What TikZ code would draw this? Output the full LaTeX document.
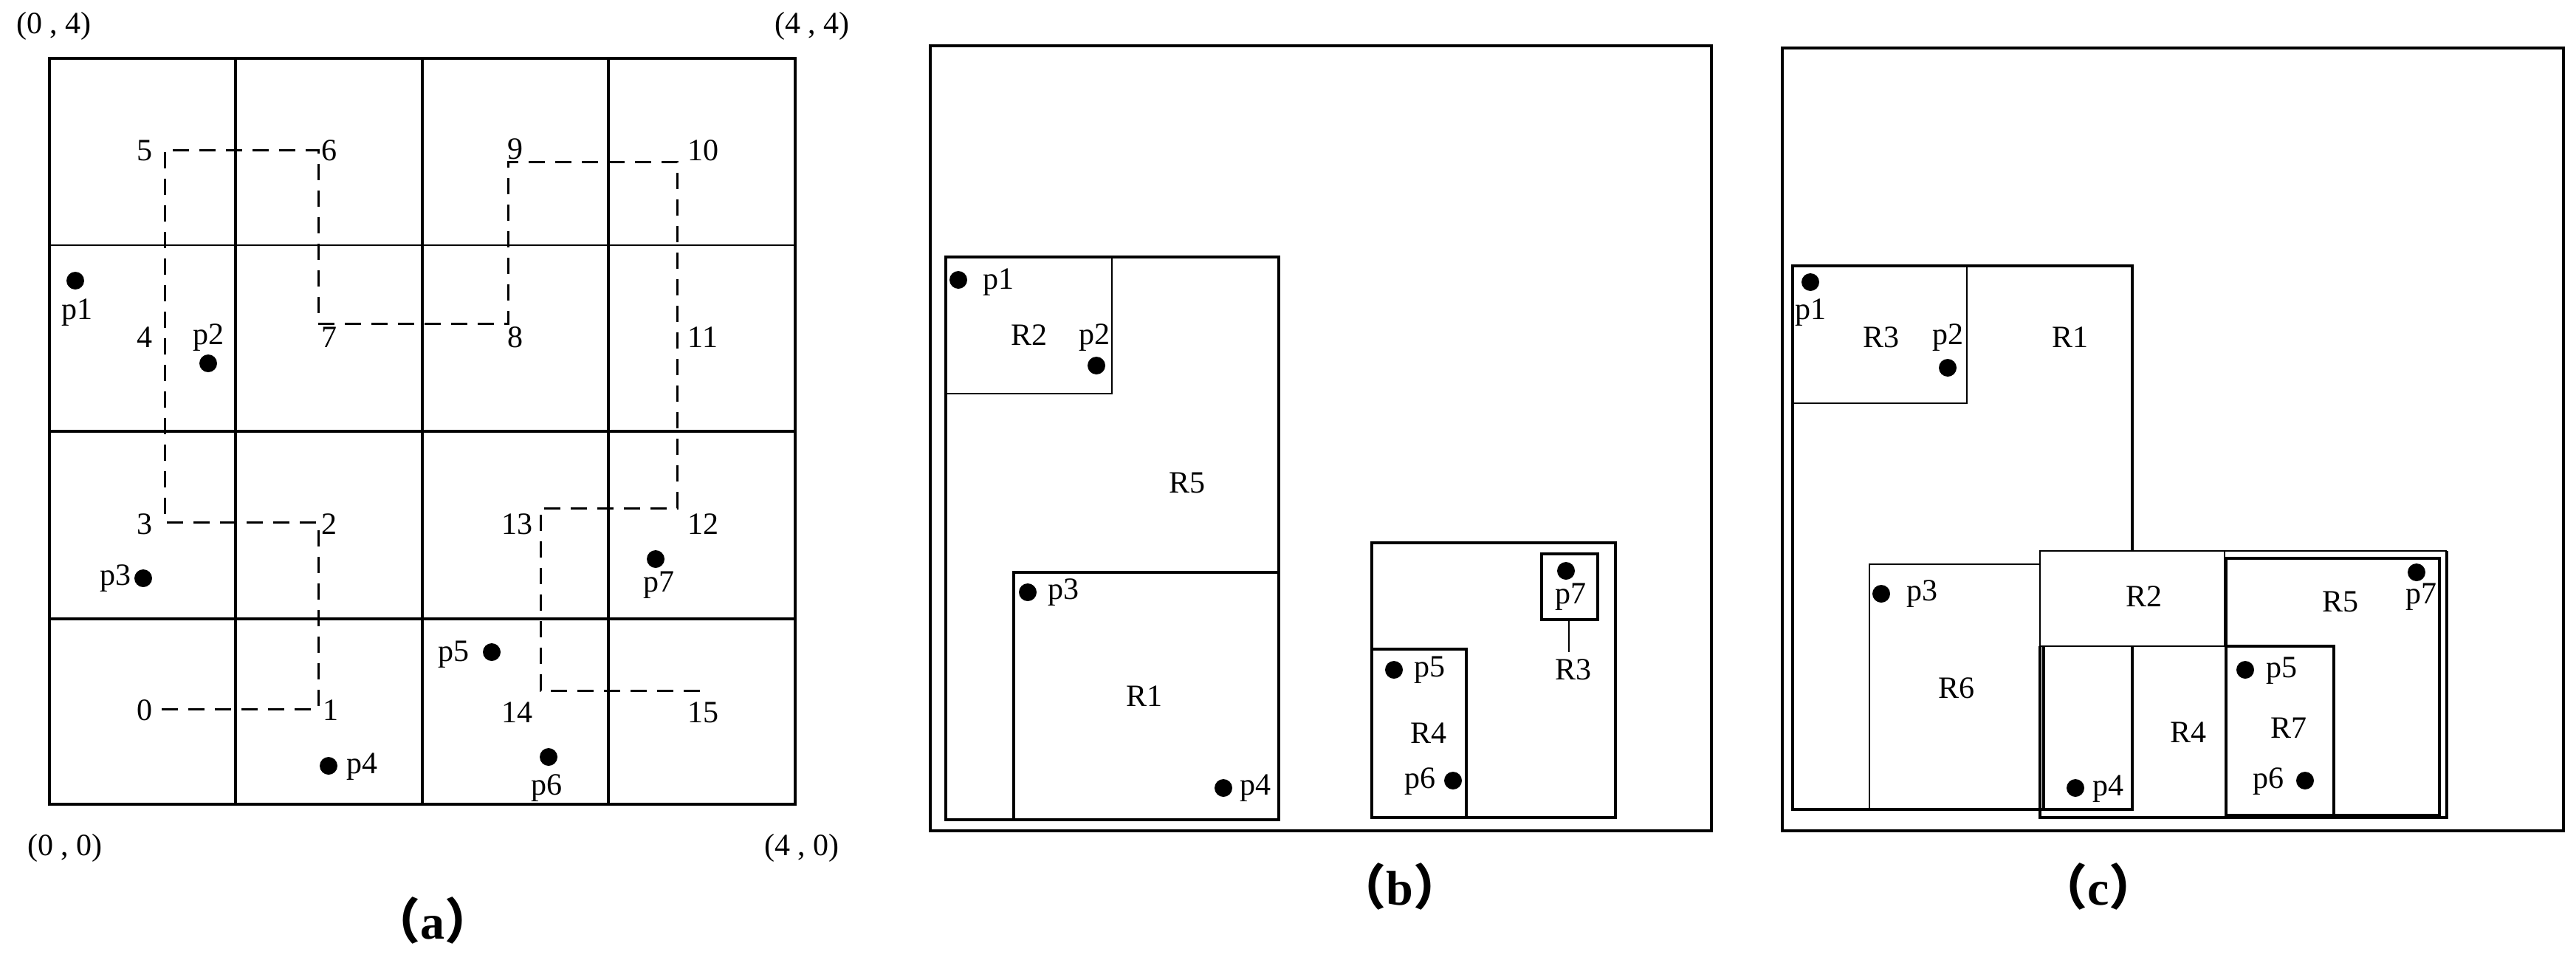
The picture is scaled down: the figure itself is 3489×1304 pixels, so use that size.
\documentclass[tikz,border=0pt]{standalone}
\usepackage{fontspec}
\setmainfont{Liberation Serif}
\newfontfamily\cjk{Noto Sans CJK SC}
\begin{document}
\begin{tikzpicture}[x=1pt,y=-1pt,
  thk/.style={line width=4pt},
  thn/.style={line width=2pt},
  dashline/.style={line width=3pt,dash pattern=on 22pt off 14pt},
  lab/.style={font=\fontsize{42}{42}\selectfont,inner sep=0pt},
  captxt/.style={font=\fontsize{66}{66}\selectfont\bfseries,inner sep=0pt},
  dot/.style={circle,fill=black,minimum size=24pt,inner sep=0pt}]
\useasboundingbox (0,0) rectangle (3489,1304);
% ---------- (a) ----------
\draw[thk] (67,79) rectangle (1077,1089);
\foreach \x in {319,572,824} \draw[thk] (\x,79) -- (\x,1089);
\draw[thn] (67,332) -- (1077,332);
\draw[thk] (67,584) -- (1077,584);
\draw[thk] (67,838) -- (1077,838);
\coordinate (c0) at (219,960); \coordinate (c1) at (431,960);
\coordinate (c2) at (431,707); \coordinate (c3) at (223,707);
\coordinate (c5) at (223,203); \coordinate (c6) at (431,203);
\coordinate (c7) at (431,438); \coordinate (c8) at (688,438);
\coordinate (c9) at (688,219); \coordinate (c10) at (917,219);
\coordinate (c12) at (917,688); \coordinate (c13) at (732,688);
\coordinate (c14) at (732,935); \coordinate (c15) at (948,935);
\draw[dashline] (c0) -- (c1) -- (c2) -- (c3) -- (c5) -- (c6) -- (c7) -- (c8) -- (c9) -- (c10) -- (c12) -- (c13) -- (c14) -- (c15);
\node[lab] (n0) at (196,962) {0};  \node[lab] (n1) at (448,962) {1};
\node[lab] (n2) at (446,710) {2};  \node[lab] (n3) at (196,710) {3};
\node[lab] (n4) at (196,457) {4};  \node[lab] (n5) at (196,204) {5};
\node[lab] (n6) at (446,204) {6};  \node[lab] (n7) at (446,457) {7};
\node[lab] (n8) at (698,457) {8};  \node[lab] (n9) at (698,202) {9};
\node[lab] (n10) at (952,204) {10}; \node[lab] (n11) at (952,457) {11};
\node[lab] (n12) at (952,710) {12}; \node[lab] (n13) at (700,710) {13};
\node[lab] (n14) at (700,965) {14}; \node[lab] (n15) at (952,965) {15};
\node[dot] (ap1) at (102,380) {}; \node[lab] (ap1l) at (104,423) {p1};
\node[dot] (ap2) at (282,492) {}; \node[lab] (ap2l) at (282,457) {p2};
\node[dot] (ap3) at (194,783) {}; \node[lab] (ap3l) at (156,783) {p3};
\node[dot] (ap4) at (445,1037) {}; \node[lab] (ap4l) at (490,1038) {p4};
\node[dot] (ap5) at (666,883) {}; \node[lab] (ap5l) at (614,886) {p5};
\node[dot] (ap6) at (743,1025) {}; \node[lab] (ap6l) at (740,1067) {p6};
\node[dot] (ap7) at (888,757) {}; \node[lab] (ap7l) at (892,792) {p7};
\node[lab] (k1) at (73,35) {(0 , 4)};
\node[lab] (k2) at (1100,35) {(4 , 4)};
\node[lab] (k3) at (88,1148) {(0 , 0)};
\node[lab] (k4) at (1086,1148) {(4 , 0)};
\node[captxt] (ca) at (586,1246) {{\cjk （}a{\cjk ）}};
% ---------- (b) ----------
\draw[thk] (1260,62) rectangle (2318,1125);
\draw[thk] (1281,348) rectangle (1732,1110);
\draw[thn] (1281,348) rectangle (1506,533);
\draw[thk] (1373,775) rectangle (1732,1110);
\draw[thk] (1858,735) rectangle (2188,1107);
\draw[thk] (1858,879) rectangle (1986,1107);
\draw[thk] (2088,750) rectangle (2164,839);
\coordinate (r3t) at (2125,839); \coordinate (r3b) at (2125,883);
\draw[thn] (r3t) -- (r3b);
\node[dot] (bp1) at (1298,379) {}; \node[lab] (bp1l) at (1352,382) {p1};
\node[lab] (bR2) at (1394,454) {R2};
\node[dot] (bp2) at (1485,495) {}; \node[lab] (bp2l) at (1482,457) {p2};
\node[lab] (bR5) at (1608,654) {R5};
\node[dot] (bp3) at (1392,802) {}; \node[lab] (bp3l) at (1440,802) {p3};
\node[lab] (bR1) at (1550,943) {R1};
\node[dot] (bp4) at (1657,1067) {}; \node[lab] (bp4l) at (1700,1067) {p4};
\node[dot] (bp7) at (2121,773) {}; \node[lab] (bp7l) at (2127,808) {p7};
\node[lab] (bR3) at (2131,907) {R3};
\node[dot] (bp5) at (1888,907) {}; \node[lab] (bp5l) at (1936,907) {p5};
\node[lab] (bR4) at (1935,993) {R4};
\node[dot] (bp6) at (1968,1057) {}; \node[lab] (bp6l) at (1923,1058) {p6};
\node[captxt] (cb) at (1896,1200) {{\cjk （}b{\cjk ）}};
% ---------- (c) ----------
\draw[thk] (2414,65) rectangle (3472,1125);
\draw[thk] (2428,360) rectangle (2888,1096);
\draw[thn] (2428,360) rectangle (2664,546);
\draw[thn] (2532,764) rectangle (2763,1096);
\fill[white] (2763,746) rectangle (3013,875);
\draw[thn] (2763,746) rectangle (3013,875);
\draw[thn] (3013,746) -- (3314,746);
\draw[thk] (2763,875) -- (2763,1107) -- (3314,1107) -- (3314,746);
\draw[thk] (2888,875) -- (2888,1096);
\draw[thk] (2768,875) -- (2768,1096) -- (2888,1096);
\draw[thn] (3013,875) -- (3161,875);
\draw[thk] (3015,756) rectangle (3304,1104);
\draw[thk] (3015,875) rectangle (3161,1104);
\node[dot] (cp1) at (2452,382) {}; \node[lab] (cp1l) at (2452,423) {p1};
\node[lab] (cR3) at (2548,457) {R3};
\node[dot] (cp2) at (2638,498) {}; \node[lab] (cp2l) at (2638,457) {p2};
\node[lab] (cR1) at (2804,457) {R1};
\node[dot] (cp3) at (2548,804) {}; \node[lab] (cp3l) at (2603,804) {p3};
\node[lab] (cR2) at (2904,808) {R2};
\node[lab] (cR5) at (3170,815) {R5};
\node[dot] (cp7) at (3273,775) {}; \node[lab] (cp7l) at (3279,808) {p7};
\node[lab] (cR6) at (2650,932) {R6};
\node[dot] (cp5) at (3041,907) {}; \node[lab] (cp5l) at (3090,908) {p5};
\node[lab] (cR7) at (3100,986) {R7};
\node[lab] (cR4) at (2964,992) {R4};
\node[dot] (cp6) at (3122,1057) {}; \node[lab] (cp6l) at (3072,1058) {p6};
\node[dot] (cp4) at (2811,1067) {}; \node[lab] (cp4l) at (2855,1068) {p4};
\node[captxt] (cc) at (2842,1200) {{\cjk （}c{\cjk ）}};
\end{tikzpicture}
\end{document}
